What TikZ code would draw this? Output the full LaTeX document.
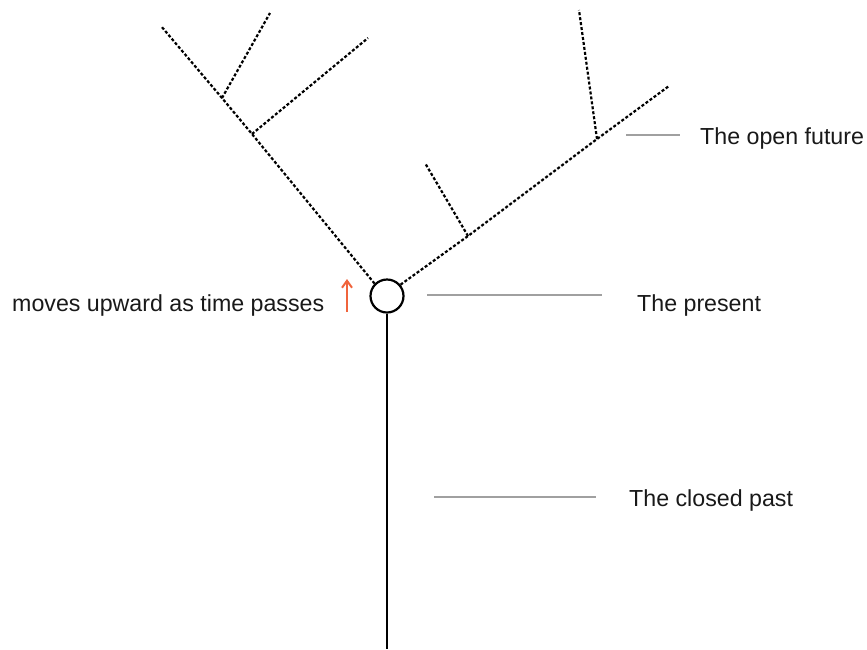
\documentclass[tikz,border=0pt]{standalone}
\usepackage{fontspec}
\setmainfont{Liberation Sans}
\usetikzlibrary{arrows.meta}
\definecolor{arrowred}{RGB}{240,100,60}
\definecolor{leadergray}{RGB}{160,160,160}
\tikzset{
  future/.style={line width=2.2pt, dash pattern=on 3pt off 2pt, black},
  pastline/.style={line width=2.2pt, black},
  leader/.style={line width=2pt, leadergray},
  lbl/.style={anchor=base west, inner sep=0pt, font=\fontsize{23.2}{27}\selectfont, text=black!90},
  nowcircle/.style={circle, draw=black, line width=2.2pt, minimum size=33pt, inner sep=0pt},
  timearrow/.style={line width=2pt, arrowred, -{Straight Barb[length=7pt,width=10pt]}}
}
\begin{document}
\begin{tikzpicture}[x=1pt,y=-1pt]
\useasboundingbox (0,0) rectangle (867,649);
% present
\node[nowcircle] (now) at (387,296) {};
\coordinate (bottom) at (387,649);
\draw[pastline] (now.south) -- (bottom);
% left branch
\coordinate (L0) at (161,26);
\coordinate (La) at (222,98);
\coordinate (Lat) at (270,13);
\coordinate (Lb) at (252,134);
\coordinate (Lbt) at (368,38);
\draw[future] (now.135) -- (Lb) -- (La) -- (L0);
\draw[future] (La) -- (Lat);
\draw[future] (Lb) -- (Lbt);
% right branch
\coordinate (R0) at (669,86);
\coordinate (Ra) at (468,236);
\coordinate (Rat) at (425,163);
\coordinate (Rb) at (597,139);
\coordinate (Rbt) at (579,10);
\draw[future] (now.40) -- (Ra) -- (Rb) -- (R0);
\draw[future] (Ra) -- (Rat);
\draw[future] (Rb) -- (Rbt);
% labels
\node[lbl] (future) at (700,144) {The open future};
\node[lbl] (present) at (637,311) {The present};
\node[lbl] (past) at (629,506) {The closed past};
\node[lbl] (moves) at (12,311) {moves upward as time passes};
% leaders
\coordinate (fa) at (626,135);
\coordinate (fb) at (680,135);
\draw[leader] (fa) -- (fb);
\coordinate (pa) at (427,295);
\coordinate (pb) at (602,295);
\draw[leader] (pa) -- (pb);
\coordinate (ca) at (434,497);
\coordinate (cb) at (596,497);
\draw[leader] (ca) -- (cb);
% arrow
\coordinate (ar0) at (347,312);
\coordinate (ar1) at (347,279);
\draw[timearrow] (ar0) -- (ar1);
\end{tikzpicture}
\end{document}
